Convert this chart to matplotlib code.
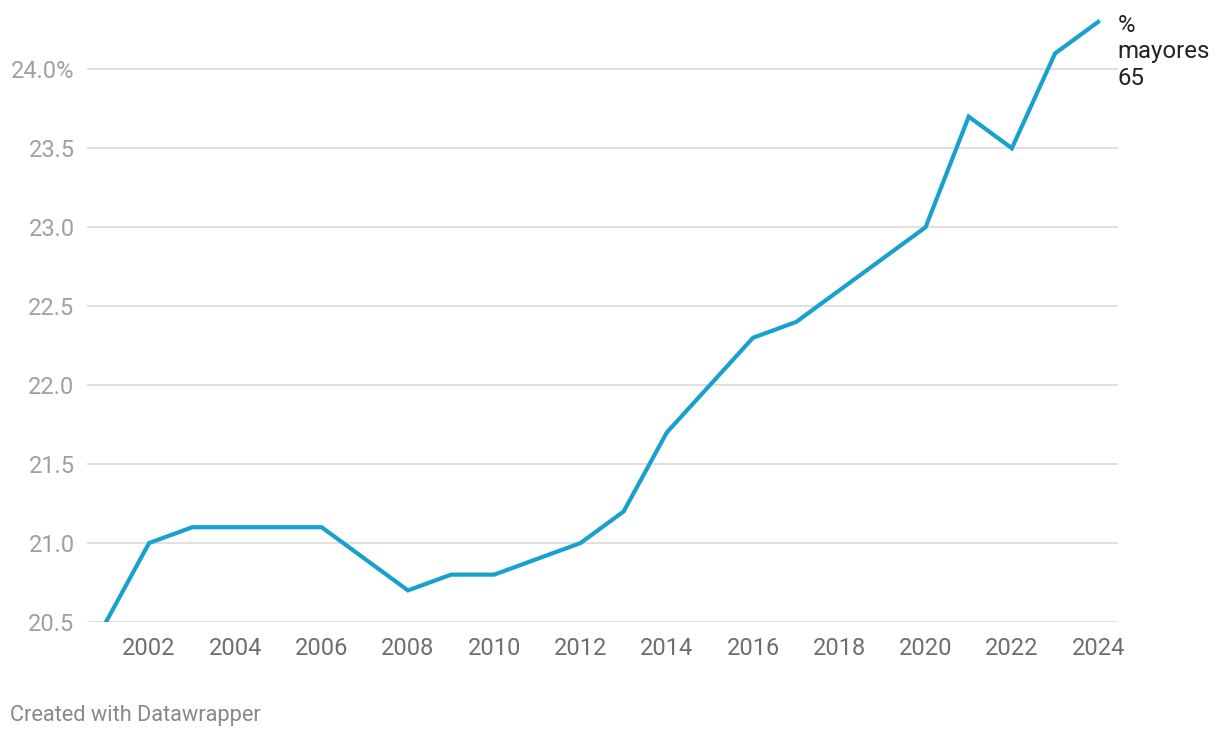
import matplotlib.pyplot as plt

# data
years = list(range(2001, 2025))
pct_65 = [20.5, 21.0, 21.1, 21.1, 21.1, 21.1, 20.9, 20.7, 20.8, 20.8, 20.9, 21.0,
          21.2, 21.7, 22.0, 22.3, 22.4, 22.6, 22.8, 23.0, 23.7, 23.5, 24.1, 24.3]
y_ticks = [20.5, 21.0, 21.5, 22.0, 22.5, 23.0, 23.5, 24.0]
y_labels = ["20.5", "21.0", "21.5", "22.0", "22.5", "23.0", "23.5", "24.0%"]
x_ticks = list(range(2002, 2025, 2))
series_label = "%\nmayores\n65"

plt.rcParams['font.family'] = ['Roboto', 'DejaVu Sans']

fig = plt.figure(figsize=(12.2, 7.38), dpi=100)
ax = fig.add_axes([87 / 1220, 116 / 738, (1118 - 87) / 1220, (738 - 116 - 14) / 738])

ax.plot(years, pct_65, color="#18a1cd", lw=3.0, solid_joinstyle="miter", zorder=3)

ax.set_xlim(2000.56, 2024.46)
ax.set_ylim(20.5, 24.35)
ax.set_yticks(y_ticks)
ax.set_yticklabels(y_labels)
ax.set_xticks(x_ticks)
ax.grid(axis="y", color="#e0e0e0", lw=1.4)
ax.set_axisbelow(True)
for s in ax.spines.values():
    s.set_visible(False)
ax.tick_params(axis="y", length=0, pad=9, labelsize=17, labelcolor="#a0a0a0")
ax.tick_params(axis="x", length=0, pad=11, labelsize=17, labelcolor="#6e6e6e")

ax.annotate(series_label, xy=(years[-1], pct_65[-1]), xytext=(14, 6),
            textcoords="offset points", va="top", ha="left", fontsize=17.3,
            color="#222222", linespacing=1.2, annotation_clip=False)

fig.text(10 / 1220, 1 - 716 / 738, "Created with Datawrapper", fontsize=15.7,
         color="#888888", va="center", ha="left")

fig.savefig("out.png", dpi=100)
